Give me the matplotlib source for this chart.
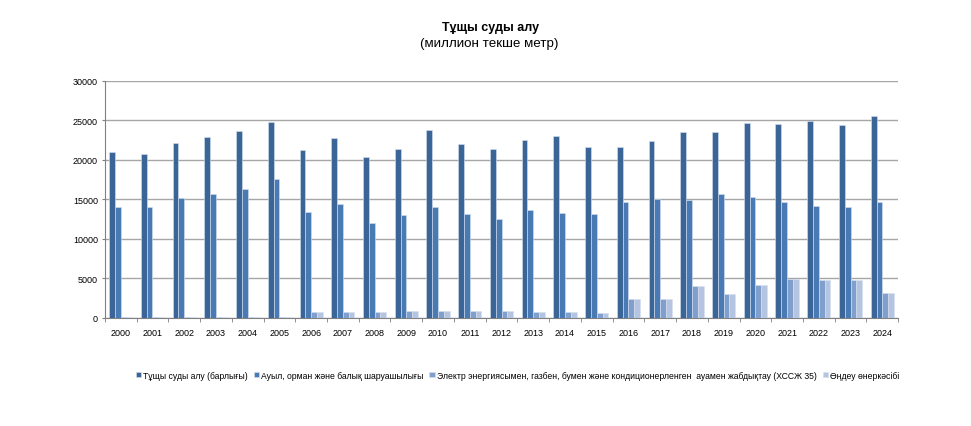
import numpy as np
import matplotlib
matplotlib.use('Agg')
import matplotlib.pyplot as plt

plt.rcParams['font.family'] = ['Liberation Sans', 'DejaVu Sans']

# данные (миллион текше метр)
years = [str(y) for y in range(2000, 2025)]
total = [20950, 20750, 22200, 22950, 23650, 24750, 21250, 22750, 20400, 21450,
         23780, 21970, 21420, 22500, 23020, 21670, 21590, 22390, 23480, 23480,
         24620, 24500, 24950, 24400, 25550]
agri = [14000, 14000, 15150, 15650, 16300, 17600, 13400, 14450, 12000, 13050,
        14020, 13130, 12500, 13680, 13300, 13170, 14650, 15060, 14940, 15660,
        15360, 14650, 14220, 14020, 14720]
elec = [100, 100, 100, 100, 100, 100, 760, 760, 760, 880,
        880, 880, 880, 760, 760, 630, 2400, 2400, 4000, 3070,
        4170, 4930, 4750, 4800, 3200]
manuf = [100, 100, 100, 100, 100, 100, 760, 760, 760, 880,
         880, 880, 880, 760, 760, 630, 2400, 2400, 4000, 3070,
         4170, 4930, 4750, 4800, 3200]

labels = ['Тұщы суды алу (барлығы)',
          'Ауыл, орман және балық шаруашылығы',
          'Электр энергиясымен, газбен, бумен және кондиционерленген  ауамен жабдықтау (ХССЖ 35)',
          'Өңдеу өнеркәсібі']
colors = ['#3C6597', '#4A7AB4', '#819FCC', '#B5C4E0']

fig = plt.figure(figsize=(9.71, 4.27), dpi=100)
ax = fig.add_axes([0.108, 0.253, 0.817, 0.555])

x = np.arange(len(years))
w = 0.183
series = [total, agri, elec, manuf]
for i, vals in enumerate(series):
    ax.bar(x - 1.5 * w + i * w, vals, width=w, color=colors[i],
           edgecolor='#D6E0EE', linewidth=0.4, label=labels[i], zorder=3)

ax.set_xlim(-0.5, len(years) - 0.5)
ax.set_ylim(0, 30000)
ax.set_yticks(range(0, 30001, 5000))
ax.set_xticks(x)
ax.set_xticklabels(years)
ax.set_xticks(np.arange(-0.5, len(years), 1), minor=True)
ax.tick_params(axis='x', which='major', length=0, labelsize=6.5, pad=7)
ax.tick_params(axis='x', which='minor', length=3, color='#808080')
ax.tick_params(axis='y', length=2, color='#808080', labelsize=6.5, pad=3)
ax.grid(axis='y', color='#A6A6A6', linewidth=1, zorder=0)
for s in ['top', 'right']:
    ax.spines[s].set_visible(False)
for s in ['left', 'bottom']:
    ax.spines[s].set_color('#808080')
    ax.spines[s].set_linewidth(0.8)

fig.text(0.505, 0.935, 'Тұщы суды алу', ha='center', va='center',
         fontsize=9, fontweight='bold')
fig.text(0.504, 0.898, '(миллион текше метр)', ha='center', va='center',
         fontsize=9.6)

fig.legend(loc='center', bbox_to_anchor=(0.533, 0.119), ncol=4, frameon=False,
           fontsize=6.2, handlelength=0.6, handleheight=0.6, handletextpad=0.3,
           columnspacing=0.65, borderaxespad=0)

fig.savefig('out.png', dpi=100)
